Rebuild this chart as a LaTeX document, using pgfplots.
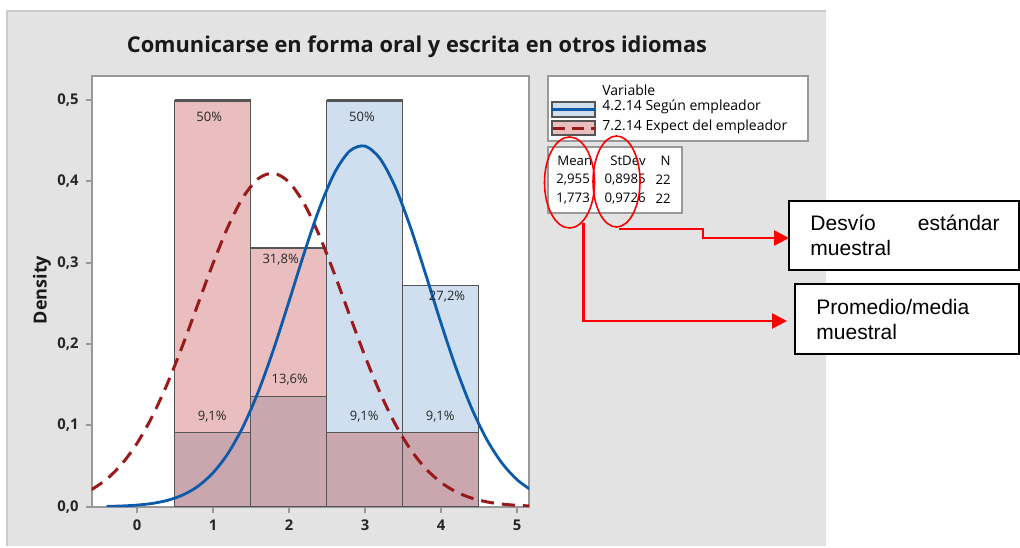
\documentclass[border=0pt]{standalone}
\usepackage{fontspec}
\setmainfont{Open Sans}
\newfontfamily\arial{Liberation Sans}
\usepackage{pgfplots}
\pgfplotsset{compat=1.18}
\usepackage{pgfplotstable}
\usetikzlibrary{arrows.meta}

\definecolor{panel}{HTML}{E3E3E3}
\definecolor{frame}{HTML}{999999}
\definecolor{pinkbar}{HTML}{EABEBE}
\definecolor{bluebar}{HTML}{CFDFF0}
\definecolor{overlap}{HTML}{CAA6AF}
\definecolor{edge}{HTML}{555555}
\definecolor{blueline}{HTML}{0B5BAA}
\definecolor{redline}{HTML}{981A1A}

% histogram densities (bin width 1)
\pgfplotstableread{
x y
1 0.5
2 0.318
3 0.0909
4 0.0909
}\expect
\pgfplotstableread{
x y
1 0.0909
2 0.136
3 0.5
4 0.272
}\segun
\pgfplotstableread{
x y
1 0.0909
2 0.136
3 0.0909
4 0.0909
}\both
\pgfplotstableread{
x y lab
0.95 0.479 50
0.99 0.111 9,1
1.89 0.304 31,8
2.01 0.156 13,6
2.96 0.480 50
2.99 0.111 9,1
4.08 0.258 27,2
3.99 0.111 9,1
}\labels
% fitted normal curves
\pgfplotstableread{
x y
-0.4 0.00042
-0.2 0.00093
0.0 0.00199
0.2 0.00403
0.4 0.00779
0.6 0.01431
0.8 0.02501
1.0 0.04163
1.2 0.06590
1.4 0.09931
1.6 0.14240
1.8 0.19434
2.0 0.25238
2.2 0.31195
2.4 0.36690
2.6 0.41066
2.8 0.43745
3.0 0.44345
3.2 0.42780
3.4 0.39276
3.6 0.34316
3.8 0.28533
4.0 0.22577
4.2 0.17001
4.4 0.12183
4.6 0.08308
4.8 0.05392
5.0 0.03330
5.2 0.01958
}\segunfit
\pgfplotstableread{
x y
-0.6 0.02091
-0.4 0.03381
-0.2 0.05241
0.0 0.07787
0.2 0.11091
0.4 0.15144
0.6 0.19821
0.8 0.24869
1.0 0.29908
1.2 0.34483
1.4 0.38110
1.6 0.40374
1.8 0.41002
2.0 0.39916
2.2 0.37250
2.4 0.33322
2.6 0.28576
2.8 0.23489
3.0 0.18508
3.2 0.13981
3.4 0.10123
3.6 0.07026
3.8 0.04676
4.0 0.02982
4.2 0.01823
4.4 0.01069
4.6 0.00600
4.8 0.00323
5.0 0.00167
5.2 0.00083
}\expectfit

\begin{document}
\begin{tikzpicture}[x=0.5pt,y=-0.5pt]
\fill[white] (0,0) rectangle (1020,546);
\fill[panel] (7,10.7) rectangle (826,546);
\draw[black!20, line width=1pt] (7,546) -- (7,10.7) -- (826,10.7);

\node[font=\bfseries\fontsize{10.9}{13}\selectfont, text=black!90] at (417,47) {Comunicarse en forma oral y escrita en otros idiomas};
\node[font=\bfseries\fontsize{9}{11}\selectfont, rotate=90, text=black!90] at (42,290) {Density};

\begin{axis}[
  at={(45.85pt,-253.35pt)}, anchor=south west, scale only axis,
  width=218.65pt, height=215.5pt,
  xmin=-0.596, xmax=5.158, ymin=0, ymax=0.530,
  axis background/.style={fill=white},
  axis line style={frame, line width=1pt},
  tick style={frame, line width=1pt},
  tick align=outside, tick pos=left, major tick length=3pt,
  xtick={0,...,5}, ytick={0,0.1,0.2,0.3,0.4,0.5},
  ticklabel style={font=\bfseries\fontsize{7.4}{9}\selectfont, text=black!85},
  yticklabel style={/pgf/number format/.cd, fixed, fixed zerofill, precision=1, use comma},
  /pgf/number format/assume math mode=true,
]
\addplot[ybar, bar width=1, bar shift=0pt, fill=pinkbar, draw=edge, line width=0.5pt] table {\expect};
\addplot[ybar, bar width=1, bar shift=0pt, fill=bluebar, draw=edge, line width=0.5pt] table {\segun};
\addplot[ybar, bar width=1, bar shift=0pt, fill=overlap, draw=edge, line width=0.5pt] table {\both};
% heavier top edges of the tallest bins
\addplot[edge, line width=1.5pt] coordinates {(0.5,0.5) (1.5,0.5)};
\addplot[edge, line width=1.5pt] coordinates {(2.5,0.5) (3.5,0.5)};
\addplot[edge, line width=0.9pt] coordinates {(1.5,0.318) (2.5,0.318)};
\addplot[edge, line width=0.9pt] coordinates {(3.5,0.272) (4.5,0.272)};
\addplot[redline, line width=1.5pt, dash pattern=on 6.5pt off 4pt, smooth] table {\expectfit};
\addplot[blueline, line width=1.4pt, smooth] table {\segunfit};
\addplot[only marks, mark size=0pt, point meta=explicit symbolic,
  nodes near coords={\pgfplotspointmeta\%}, nodes near coords align={center},
  every node near coord/.append style={font=\fontsize{6.5}{8}\selectfont, text=black!85, inner sep=0pt}]
  table[meta=lab] {\labels};
\end{axis}

% legend
\draw[frame, line width=0.8pt, fill=white] (548,76) rectangle (808,141);
\begin{scope}[every node/.style={font=\fontsize{7}{8}\selectfont, inner sep=0pt, anchor=west, text=black}]
\node at (602,90) {Variable};
\node at (602,107) {4.2.14 Según empleador};
\node at (602,127) {7.2.14 Expect del empleador};
\end{scope}
\draw[edge, line width=0.8pt, fill=bluebar] (552,102) rectangle (595,117);
\draw[blueline, line width=1.4pt] (552,109.5) -- (595,109.5);
\draw[edge, line width=0.8pt, fill=pinkbar] (552,121) rectangle (595,135);
\draw[redline, line width=1.5pt, dash pattern=on 6pt off 3.5pt] (553,128) -- (595,128);

% statistics box
\draw[frame, line width=0.8pt, fill=white] (548,147) rectangle (682,213);
\begin{scope}[every node/.style={font=\fontsize{6.6}{8}\selectfont, inner sep=0pt, text=black}]
\node[anchor=west] at (557,161) {Mean};
\node[anchor=east] at (646,161) {StDev};
\node[anchor=east] at (671,161) {N};
\node[anchor=west] at (556,180) {2,955};
\node[anchor=east] at (646,180) {0,8985};
\node[anchor=east] at (671,180) {22};
\node[anchor=west] at (556,199) {1,773};
\node[anchor=east] at (646,199) {0,9726};
\node[anchor=east] at (671,199) {22};
\end{scope}

% annotations
\draw[red, line width=0.8pt] (569.5,182.5) ellipse [x radius=25, y radius=45.5];
\draw[red, line width=0.8pt] (616.5,181.5) ellipse [x radius=23.5, y radius=45.5];
\draw[red, line width=1.3pt, -{Triangle[length=7.5pt, width=7.5pt]}] (619,229) -- (703,229) -- (703,238) -- (789,238);
\draw[red, line width=1.3pt, -{Triangle[length=7.5pt, width=7.5pt]}] (583.7,223) -- (583.7,321) -- (787,321);
\draw[black, line width=0.9pt, fill=white] (789,201) rectangle (1019,270);
\draw[black, line width=0.9pt, fill=white] (795,284) rectangle (1019,354);
\begin{scope}[every node/.style={font=\arial\fontsize{10.5}{12}\selectfont, inner sep=0pt}]
\node[anchor=west] at (810,223) {Desvío};
\node[anchor=east] at (1000,223) {estándar};
\node[anchor=west] at (810,248) {muestral};
\node[anchor=west] at (816,307) {Promedio/media};
\node[anchor=west] at (816,332) {muestral};
\end{scope}
\end{tikzpicture}
\end{document}
